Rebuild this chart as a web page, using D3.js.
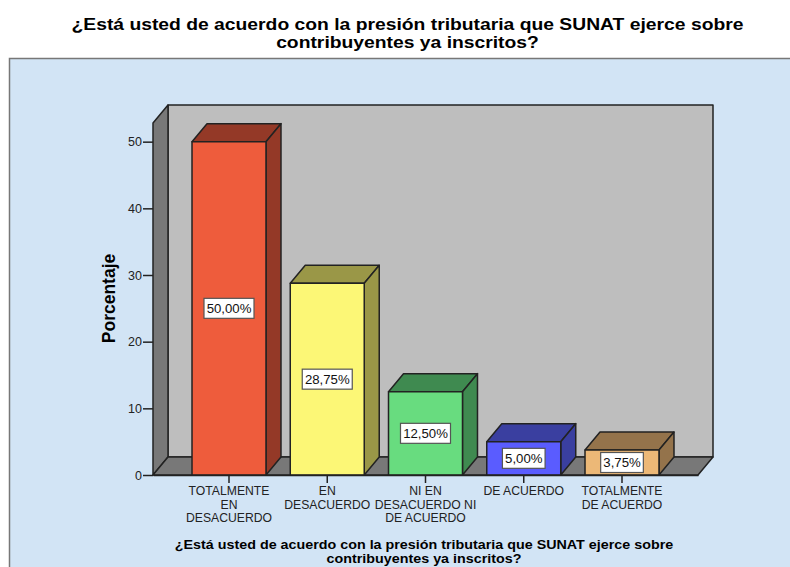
<!DOCTYPE html>
<html lang="es">
<head>
<meta charset="UTF-8">
<script src="https://d3js.org/d3.v7.min.js"></script>
<style>
    body {margin: 0; background: #fff;}
    svg {display: block;}
    text {font-family: "Liberation Sans", Arial, sans-serif;}
</style>
</head>
<body>
<div id="chart"></div>
<script>
// data
var categories = ["TOTALMENTE EN DESACUERDO", "EN DESACUERDO", "NI EN DESACUERDO NI DE ACUERDO", "DE ACUERDO", "TOTALMENTE DE ACUERDO"];
var tickLines = [
    ["TOTALMENTE", "EN", "DESACUERDO"],
    ["EN", "DESACUERDO"],
    ["NI EN", "DESACUERDO NI", "DE ACUERDO"],
    ["DE ACUERDO"],
    ["TOTALMENTE", "DE ACUERDO"]
];
var values = [50, 28.75, 12.5, 5, 3.75];
var yTicks = [0, 10, 20, 30, 40, 50];
var frontColors = ["#ee5c3c", "#fcf776", "#68dc7f", "#5a5cff", "#ecb877"];
var darkColors = ["#943927", "#9a9747", "#3f8a50", "#3a3fa0", "#94734b"];
var titleLines = ["¿Está usted de acuerdo con la presión tributaria que SUNAT ejerce sobre", "contribuyentes ya inscritos?"];

var width = 790, height = 567;
var dx = 15, dy = -18; // 3d depth offset
var line = "#222";

var svg = d3.select("#chart").append("svg")
    .attr("width", width)
    .attr("height", height);

// the titles in the reference are a bit wider than the font, so stretch them
function stretch(sel, factor) {
    sel.attr("lengthAdjust", "spacingAndGlyphs")
        .attr("textLength", function() { return this.getComputedTextLength() * factor; });
}

// chart title
svg.selectAll(".title").data(titleLines).enter().append("text")
    .attr("class", "title")
    .attr("x", 407.5)
    .attr("y", function(d, i) { return 30 + i * 18; })
    .attr("text-anchor", "middle")
    .style("font-size", "17px")
    .style("font-weight", "bold")
    .text(function(d) { return d; })
    .call(stretch, 1.135);

// outer frame runs off the right and bottom of the page
svg.append("rect")
    .attr("x", 9.5).attr("y", 58.5)
    .attr("width", width + 20).attr("height", height)
    .attr("fill", "#d2e4f5")
    .attr("stroke", "#777")
    .attr("stroke-width", 1.5);

var x = d3.scaleBand()
    .domain(categories)
    .range([153, 698])
    .paddingInner(0.247)
    .paddingOuter(0.397);

var y = d3.scaleLinear()
    .domain([0, 52.8])
    .range([475, 123]);

var x0 = x.range()[0], x1 = x.range()[1];
var y0 = y.range()[0], y1 = y.range()[1];

function poly(pts, fill) {
    svg.append("polygon")
        .attr("points", pts.map(function(p) { return p.join(","); }).join(" "))
        .attr("fill", fill)
        .attr("stroke", line)
        .attr("stroke-width", 1.5)
        .attr("stroke-linejoin", "round");
}

// back wall, side wall, floor
poly([[x0 + dx, y1 + dy], [x1 + dx, y1 + dy], [x1 + dx, y0 + dy], [x0 + dx, y0 + dy]], "#bebebe");
poly([[x0, y1], [x0 + dx, y1 + dy], [x0 + dx, y0 + dy], [x0, y0]], "#787878");
poly([[x0, y0], [x0 + dx, y0 + dy], [x1 + dx, y0 + dy], [x1, y0]], "#787878");

// bars
categories.forEach(function(c, i) {
    var l = x(c), r = l + x.bandwidth(), t = y(values[i]);
    poly([[l, t], [l + dx, t + dy], [r + dx, t + dy], [r, t]], darkColors[i]);
    poly([[r, t], [r + dx, t + dy], [r + dx, y0 + dy], [r, y0]], darkColors[i]);
    poly([[l, t], [r, t], [r, y0], [l, y0]], frontColors[i]);
});

// axes
var yAxis = svg.append("g")
    .attr("transform", "translate(" + x0 + ",0)")
    .call(d3.axisLeft(y).tickValues(yTicks).tickSize(10).tickPadding(1).tickSizeOuter(0));
yAxis.select(".domain").remove();
yAxis.selectAll("line").attr("stroke", line).attr("stroke-width", 1.5);
yAxis.selectAll("text").style("font-size", "12.5px").attr("fill", "#222");

var xAxis = svg.append("g")
    .attr("transform", "translate(0," + y0 + ")")
    .call(d3.axisBottom(x).tickSize(8).tickSizeOuter(0).tickFormat(""));
xAxis.select(".domain").attr("stroke", line).attr("stroke-width", 1.5);
xAxis.selectAll("line").attr("stroke", line).attr("stroke-width", 1.5);

// multi line category labels
categories.forEach(function(c, i) {
    svg.selectAll(".cat" + i).data(tickLines[i]).enter().append("text")
        .attr("class", "cat" + i)
        .attr("x", x(c) + x.bandwidth() / 2)
        .attr("y", function(d, k) { return 495 + k * 13.5; })
        .attr("text-anchor", "middle")
        .attr("fill", "#222")
        .style("font-size", "12.2px")
        .text(function(d) { return d; });
});

// value labels
var fmt = function(v) { return v.toFixed(2).replace(".", ",") + "%"; };
categories.forEach(function(c, i) {
    var cx = x(c) + x.bandwidth() / 2, cy = y(values[i] / 2);
    var g = svg.append("g");
    var t = g.append("text")
        .attr("x", cx)
        .attr("y", cy + 4.5)
        .attr("text-anchor", "middle")
        .attr("fill", "#111")
        .style("font-size", "13.2px")
        .text(fmt(values[i]));
    var w = t.node().getBBox().width + 5;
    g.insert("rect", "text")
        .attr("x", cx - w / 2)
        .attr("y", cy - 10)
        .attr("width", w)
        .attr("height", 20)
        .attr("fill", "#fff")
        .attr("stroke", "#555")
        .attr("stroke-width", 1.2);
});

// axis titles
svg.append("text")
    .attr("transform", "translate(115,298.5) rotate(-90)")
    .attr("text-anchor", "middle")
    .style("font-size", "17.5px")
    .style("font-weight", "bold")
    .text("Porcentaje");

svg.selectAll(".xtitle").data(titleLines).enter().append("text")
    .attr("class", "xtitle")
    .attr("x", 424)
    .attr("y", function(d, i) { return 549 + i * 14.3; })
    .attr("text-anchor", "middle")
    .style("font-size", "13.5px")
    .style("font-weight", "bold")
    .text(function(d) { return d; })
    .call(stretch, 1.06);
</script>
</body>
</html>
